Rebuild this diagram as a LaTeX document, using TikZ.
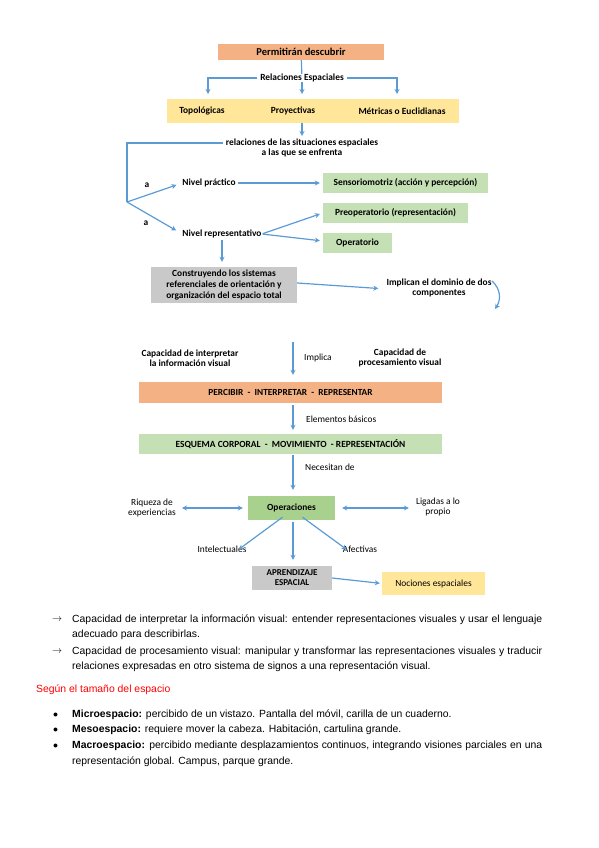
\documentclass[tikz,border=0pt]{standalone}
\usepackage{fontspec}
\setmainfont{Carlito}
\newfontfamily\arial{Liberation Sans}
\usetikzlibrary{arrows.meta}

\definecolor{salmon}{HTML}{F4B183}
\definecolor{amarillo}{HTML}{FFE699}
\definecolor{verde}{HTML}{C5E0B4}
\definecolor{verdeos}{HTML}{A9D18E}
\definecolor{gris}{HTML}{C9C9C9}
\definecolor{azul}{HTML}{5B9BD5}

\tikzset{
  flecha/.style={draw=azul, line width=1.2pt, -{Stealth[length=5pt,width=5pt]}},
  dflecha/.style={draw=azul, line width=1.2pt, {Stealth[length=5pt,width=5pt]}-{Stealth[length=5pt,width=5pt]}},
  linea/.style={draw=azul, line width=1.2pt},
  lbl/.style={inner sep=0pt, align=center, font=\fontsize{9.4}{10.5}\selectfont},
  blbl/.style={lbl, font=\fontsize{9.4}{10.5}\selectfont\bfseries},
  caja/.style={inner sep=0pt, align=center, font=\fontsize{9.4}{11}\selectfont\bfseries},
  txt/.style={anchor=west, inner sep=0pt, font=\arial\fontsize{10.4}{12}\selectfont},
}

\begin{document}
\begin{tikzpicture}[x=1pt,y=-1pt]
  \useasboundingbox (0,0) rectangle (599,848);
  %\draw[very thin,color=gray] (0,0) grid[step=50] (599,848);

  % parte de arriba
  \node[caja, fill=salmon, minimum width=166, minimum height=16, font=\fontsize{10.5}{12}\selectfont\bfseries] (permitiran) at (301,52) {Permitirán descubrir};
  \node[blbl, fill=white, inner xsep=3pt] (relaciones) at (302,78) {Relaciones Espaciales};
  \node[caja, fill=amarillo, minimum width=292, minimum height=24] (tipos) at (313,111) {};
  \node[blbl] (topo) at (202,111) {Topológicas};
  \node[blbl] (proy) at (293,111) {Proyectivas};
  \node[blbl] (metricas) at (402,111) {Métricas o Euclidianas};
  \coordinate (t1) at (208,94);
  \coordinate (t2) at (302,94);
  \coordinate (t3) at (397,94);
  \draw[linea] (permitiran) -- (relaciones);
  \draw[flecha] (relaciones.west) -| (t1);
  \draw[flecha] (relaciones.east) -| (t3);
  \draw[flecha] (relaciones.south) -- (t2);

  \node[blbl, inner xsep=3pt] (sit1) at (302,143) {relaciones de las situaciones espaciales};
  \node[blbl] (sit2) at (302,153) {a las que se enfrenta};
  \coordinate (c1) at (302,136);
  \draw[flecha] (tipos.south -| c1) -- (c1);
  \coordinate (bifurca) at (127,202);
  \draw[linea] (sit1.west) -| (bifurca);

  \node[blbl] (practico) at (209,183) {Nivel práctico};
  \node[blbl] (representativo) at (222,234) {Nivel representativo};
  \node[blbl] (a1) at (147,185) {a};
  \node[blbl] (a2) at (146,223) {a};
  \draw[flecha, shorten >=6pt] (bifurca) -- (practico.west);
  \draw[flecha, shorten >=7pt] (bifurca) -- (representativo.west);

  \node[caja, fill=verde, minimum width=165, minimum height=20] (senso) at (405.5,183) {Sensoriomotriz (acción y percepción)};
  \node[caja, fill=verde, minimum width=145, minimum height=20] (preop) at (395.5,213) {Preoperatorio (representación)};
  \node[caja, fill=verde, minimum width=69, minimum height=20] (oper) at (357.5,243) {Operatorio};
  \draw[flecha, shorten <=2pt, shorten >=3pt] (practico.east) -- (senso.west);
  \draw[flecha, shorten <=1pt, shorten >=3pt] (representativo.east) -- (preop.west);
  \draw[flecha, shorten <=1pt, shorten >=3pt] (representativo.east) -- ([yshift=2pt]oper.west);

  \node[caja, fill=gris, minimum width=146, minimum height=36] (construyendo) at (224,285) {Construyendo los sistemas\\referenciales de orientación y\\organización del espacio total};
  \draw[flecha, shorten <=2pt, shorten >=5pt] (representativo.south) -- (representativo.south |- construyendo.north);
  \node[blbl] (implican) at (439,288) {Implican el dominio de dos\\componentes};
  \draw[flecha, shorten >=8pt] ([yshift=2pt]construyendo.east) -- ([yshift=-1pt]implican.west);
  \coordinate (cur1) at (492,281);
  \coordinate (cur2) at (495,309);
  \draw[flecha] (cur1) .. controls (501,289) and (501,300) .. (cur2);

  % parte de abajo
  \node[caja, fill=salmon, minimum width=303, minimum height=21, font=\fontsize{9.3}{10}\selectfont\bfseries] (percibir) at (290.5,392.5) {PERCIBIR \ - \ INTERPRETAR \ - \ REPRESENTAR};
  \node[caja, fill=verde, minimum width=303, minimum height=20, font=\fontsize{9.4}{10}\selectfont\bfseries] (esquema) at (290.5,444) {ESQUEMA CORPORAL \ - \ MOVIMIENTO \ - REPRESENTACIÓN};
  \coordinate (m0) at (293,342);
  \draw[flecha, shorten >=7pt] (m0) -- (m0 |- percibir.north);
  \node[lbl, anchor=west] (implica) at (304,358) {Implica};
  \node[blbl] (interpretar) at (190,358) {Capacidad de interpretar\\la información visual};
  \node[blbl] (procesamiento) at (400,358) {Capacidad de\\procesamiento visual};
  \draw[flecha, shorten <=2pt, shorten >=4pt] (m0 |- percibir.south) -- (m0 |- esquema.north);
  \node[lbl, anchor=west] (elementos) at (306,419) {Elementos básicos};

  \node[caja, fill=verdeos, minimum width=87, minimum height=24] (operaciones) at (291.5,508) {Operaciones};
  \draw[flecha, shorten <=1pt, shorten >=6pt] (m0 |- esquema.south) -- (m0 |- operaciones.north);
  \node[lbl, anchor=west] (necesitan) at (305,467) {Necesitan de};

  \node[lbl] (riqueza) at (152,508) {Riqueza de\\experiencias};
  \node[lbl] (ligadas) at (438,507) {Ligadas a lo\\propio};
  \draw[dflecha, shorten <=6pt, shorten >=5pt] (riqueza.east) -- (operaciones.west);
  \draw[dflecha, shorten <=7pt, shorten >=7pt] (operaciones.east) -- (ligadas.west |- operaciones.east);

  \node[lbl] (intelectuales) at (222,549) {Intelectuales};
  \node[lbl] (afectivas) at (360,549) {Afectivas};
  \draw[flecha] ([xshift=-9pt,yshift=3pt]operaciones.south) -- ([xshift=-8pt,yshift=-4pt]intelectuales.north east);
  \draw[flecha] ([xshift=11pt,yshift=3pt]operaciones.south) -- ([xshift=4pt,yshift=-4pt]afectivas.north west);

  \node[caja, fill=gris, minimum width=80, minimum height=24, font=\fontsize{9}{10}\selectfont\bfseries] (aprendizaje) at (292,578) {APRENDIZAJE\\ESPACIAL};
  \node[caja, fill=amarillo, minimum width=103, minimum height=23, font=\fontsize{9.4}{10}\selectfont] (nociones) at (433.5,583.5) {Nociones espaciales};
  \draw[flecha, shorten <=2pt, shorten >=6pt] (m0 |- operaciones.south) -- (m0 |- aprendizaje.north);
  \draw[flecha, shorten >=2pt] (aprendizaje.east) -- (nociones.west);

  % texto
  \node[txt] (f1) at (52,620) {$\rightarrow$};
  \node[txt] (l1) at (72,620) {\makebox[470pt][s]{Capacidad de interpretar la información visual: entender representaciones visuales y usar el lenguaje}};
  \node[txt] (l2) at (72,635) {adecuado para describirlas.};
  \node[txt] (f2) at (52,652) {$\rightarrow$};
  \node[txt] (l3) at (72,652) {\makebox[470pt][s]{Capacidad de procesamiento visual: manipular y transformar las representaciones visuales y traducir}};
  \node[txt] (l4) at (72,667) {relaciones expresadas en otro sistema de signos a una representación visual.};
  \node[txt, text=red] (tamano) at (36,690) {Según el tamaño del espacio};
  \node[txt] (b1) at (53,715) {$\bullet$};
  \node[txt] (micro) at (72,715) {\textbf{Microespacio:} percibido de un vistazo. Pantalla del móvil, carilla de un cuaderno.};
  \node[txt] (b2) at (53,730) {$\bullet$};
  \node[txt] (meso) at (72,730) {\textbf{Mesoespacio:} requiere mover la cabeza. Habitación, cartulina grande.};
  \node[txt] (b3) at (53,746) {$\bullet$};
  \node[txt] (macro) at (72,746) {\makebox[470pt][s]{\textbf{Macroespacio:} percibido mediante desplazamientos continuos, integrando visiones parciales en una}};
  \node[txt] (l5) at (72,762) {representación global. Campus, parque grande.};
\end{tikzpicture}
\end{document}
